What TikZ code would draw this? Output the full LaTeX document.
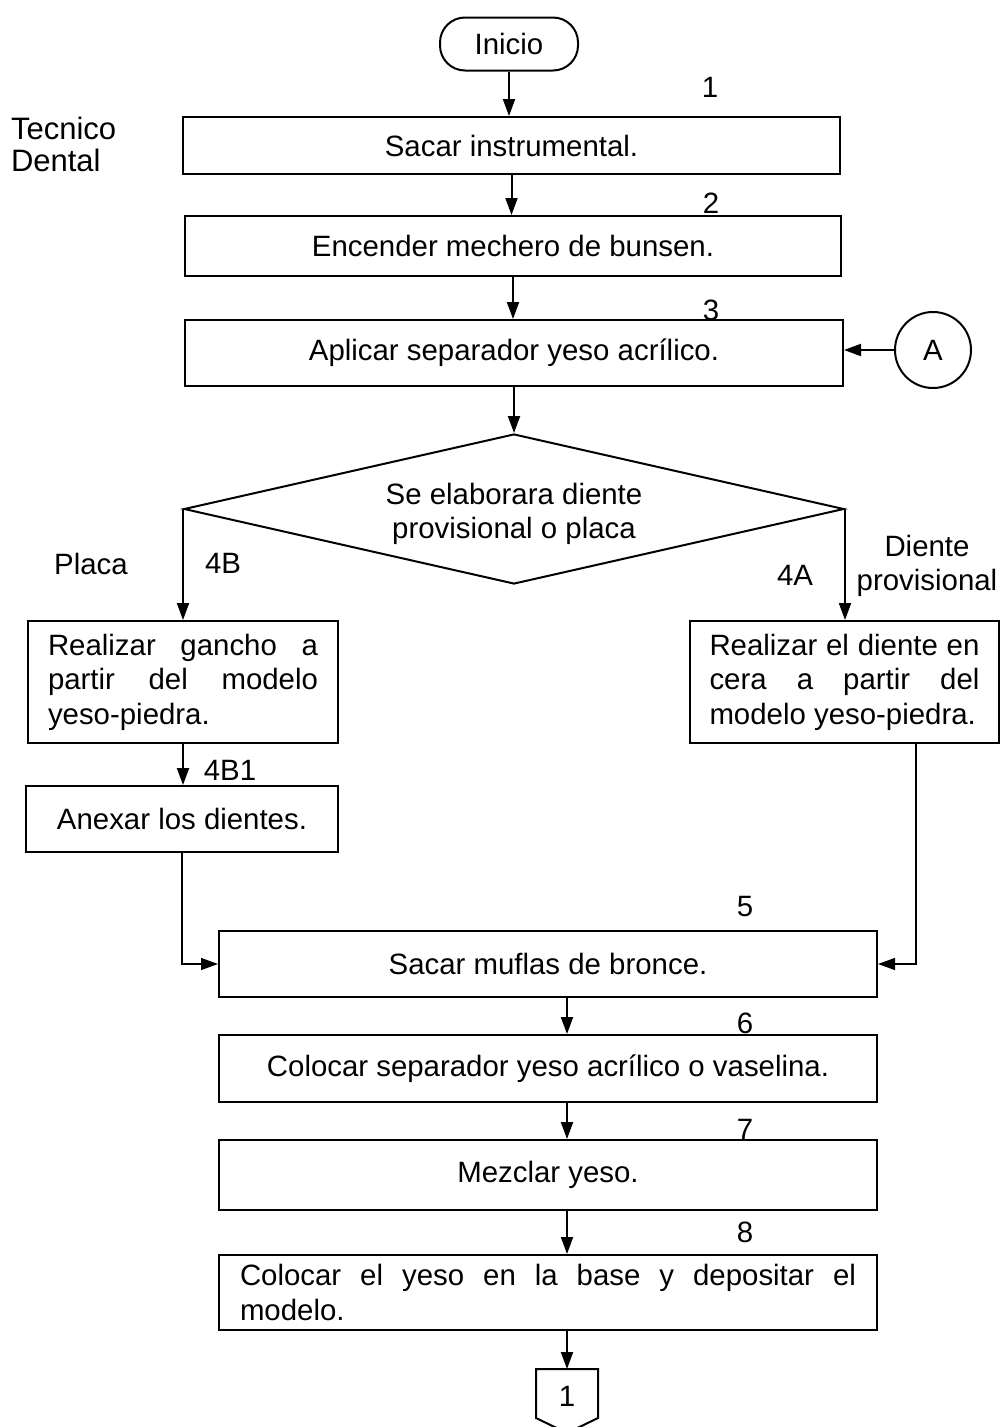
\documentclass[tikz,border=0pt]{standalone}
\usepackage{fontspec}
\setmainfont{Liberation Sans}
\usetikzlibrary{shapes, arrows.meta, positioning}

\begin{document}
\begin{tikzpicture}[>={Triangle[length=17pt,width=12pt]}, x=1pt, y=-1pt,
  font=\fontsize{29.4}{34.5}\selectfont, line width=2pt,
  proc/.style={draw, rectangle, inner sep=0pt},
  lbl/.style={inner sep=0pt},
  thin line/.style={line width=1.3pt}]
\useasboundingbox (0,0) rectangle (1001,1427);
%
\node[draw, rounded corners=25pt, minimum width=138pt, minimum height=53pt] (inicio) at (509,44) {Inicio};
\node[lbl, align=left, anchor=west, font=\fontsize{31}{32}\selectfont] (tecnico) at (10,144) {Tecnico\\Dental};
\node[proc, minimum width=657pt, minimum height=57pt] (box1) at (511.5,145.5) {Sacar instrumental.};
\node[proc, minimum width=656pt, minimum height=60pt] (box2) at (513,246) {Encender mechero de bunsen.};
\node[proc, minimum width=658pt, minimum height=66pt] (box3) at (514,353) {Aplicar separador yeso acrílico.};
\node[draw, circle, minimum size=76pt, inner sep=0pt] (circA) at (933,350) {A};
\node[draw, diamond, aspect=4.4, minimum width=660pt, minimum height=150pt, inner sep=0pt] (dec) at (514,509) {};
\node[lbl, align=center] (dectext) at (514,514) {Se elaborara diente\\provisional o placa};
%
\node[proc, minimum width=310pt, minimum height=122pt, text width=270pt, align=justify] (box4B) at (183,682) {Realizar gancho a\linebreak partir del modelo\linebreak yeso-piedra.};
\node[proc, minimum width=309pt, minimum height=122pt, text width=270pt, align=justify] (box4A) at (844.5,682) {Realizar el diente en\linebreak cera a partir del\linebreak modelo yeso-piedra.};
\node[proc, minimum width=312pt, minimum height=66pt] (box4B1) at (182,819) {Anexar los dientes.};
%
\node[proc, minimum width=658pt, minimum height=66pt] (box5) at (548,964) {Sacar muflas de bronce.};
\node[proc, minimum width=658pt, minimum height=67pt] (box6) at (548,1068.5) {Colocar separador yeso acrílico o vaselina.};
\node[proc, minimum width=658pt, minimum height=70pt] (box7) at (548,1175) {Mezclar yeso.};
\node[proc, minimum width=658pt, minimum height=75pt, text width=616pt, align=justify] (box8) at (548,1292.5) {Colocar el yeso en la base y depositar el\linebreak modelo.};
%
\coordinate (conntop) at (567,1369);
\draw (536,1369) -- (598,1369) -- (598,1418) -- (567,1433) -- (536,1418) -- cycle;
\node[lbl] (conn) at (567,1396) {1};
%
\node[lbl] (n1) at (710,87) {1};
\node[lbl] (n2) at (711,203) {2};
\node[lbl] (n3) at (711,310) {3};
\node[lbl] (placa) at (91,564) {Placa};
\node[lbl] (n4B) at (223,563) {4B};
\node[lbl] (n4A) at (795,575) {4A};
\node[lbl, align=center] (diente) at (927,566) {Diente\\provisional};
\node[lbl] (n4B1) at (230,770) {4B1};
\node[lbl] (n5) at (745,907) {5};
\node[lbl] (n6) at (745,1023) {6};
\node[lbl] (n7) at (745,1129) {7};
\node[lbl] (n8) at (745,1232) {8};
%
\draw[->] (inicio) -- (inicio |- box1.north);
\draw[->] (box1) -- (box1 |- box2.north);
\draw[->] (box2) -- (box2 |- box3.north);
\draw[->] (circA) -- (circA -| box3.east);
\draw[->] (box3) -- (box3 |- dec.north);
\draw[->] (dec.west) -- (dec.west |- box4B.north);
\draw[->] (dec.east) -- (dec.east |- box4A.north);
\draw[->] (box4B) -- (box4B |- box4B1.north);
\draw[->, thin line] (box4B1.south) |- (box5.west);
\draw[->, thin line] ([xshift=71.5pt]box4A.south) |- (box5.east);
\draw[->] (box5.south -| conntop) -- (box6.north -| conntop);
\draw[->] (box6.south -| conntop) -- (box7.north -| conntop);
\draw[->] (box7.south -| conntop) -- (box8.north -| conntop);
\draw[->] (box8.south -| conntop) -- (conntop);
\end{tikzpicture}
\end{document}
